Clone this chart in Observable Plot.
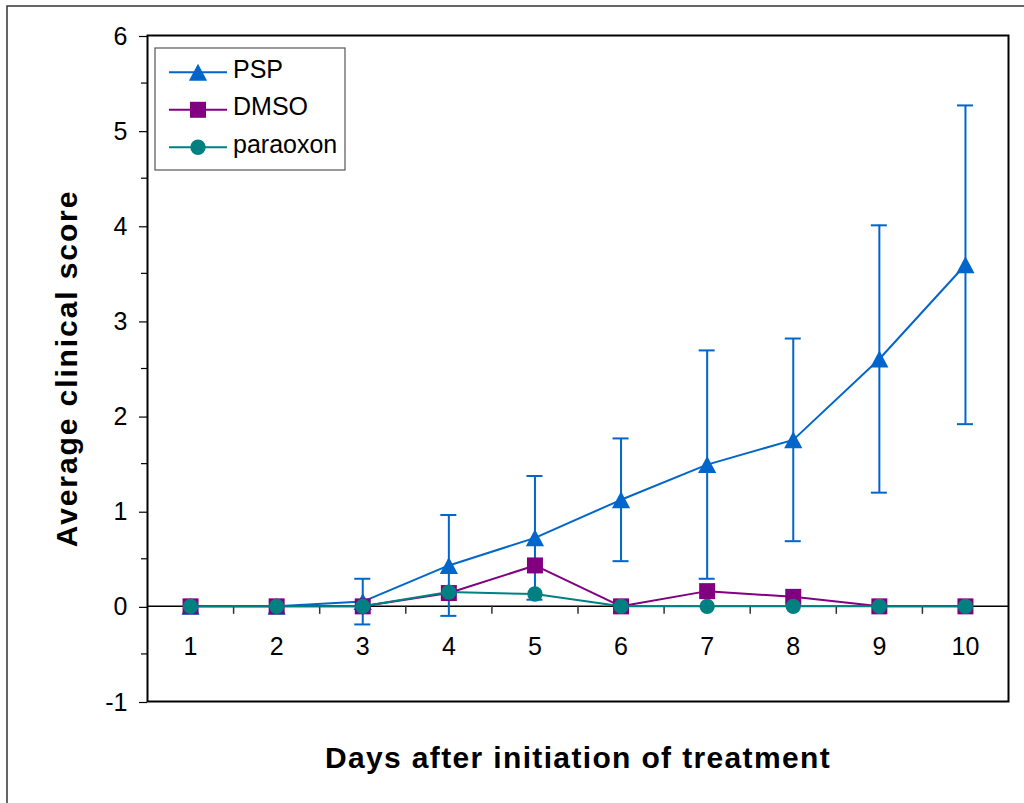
<!DOCTYPE html>
<html>
<head>
<meta charset="utf-8">
<script src="https://cdn.jsdelivr.net/npm/d3@7"></script>
<script src="https://cdn.jsdelivr.net/npm/@observablehq/plot@0.6"></script>
<style>
  body { margin: 0; background: #fff; }
  svg { display: block; }
</style>
</head>
<body>
<div id="chart"></div>
<script>
// Days after initiation of treatment
const days = [1, 2, 3, 4, 5, 6, 7, 8, 9, 10];
const dayLabels = ["1", "2", "3", "4", "5", "6", "7", "8", "9", "10"];

// Average clinical score per group
const pspMean = [0, 0, 0.05, 0.43, 0.72, 1.12, 1.49, 1.75, 2.6, 3.59];
const pspErr = [0, 0, 0.24, 0.53, 0.65, 0.645, 1.2, 1.065, 1.405, 1.675];
const dmsoMean = [0, 0, 0, 0.14, 0.43, 0, 0.16, 0.1, 0, 0];
const paraoxonMean = [0, 0, 0, 0.15, 0.13, 0, 0, 0, 0, 0];

// Series names and colours
const seriesNames = ["PSP", "DMSO", "paraoxon"];
const seriesColors = ["#0066CC", "#800080", "#008080"];

// Axis ticks
const yTicks = [-1, 0, 1, 2, 3, 4, 5, 6];
const yTickLabels = ["-1", "0", "1", "2", "3", "4", "5", "6"];
const yMinorTicks = [-0.5, 0.5, 1.5, 2.5, 3.5, 4.5, 5.5];
const xCategoryBounds = [1.5, 2.5, 3.5, 4.5, 5.5, 6.5, 7.5, 8.5, 9.5];

const yTitle = "Average clinical score";
const xTitle = "Days after initiation of treatment";

const FONT = "'Liberation Sans', Arial, Helvetica, sans-serif";

// Marker shapes centred on their bounding box
const triangleSym = {
  draw(ctx, size) {
    const r = Math.sqrt(size / Math.PI);
    ctx.moveTo(0, -r);
    ctx.lineTo(r * 1.07, r);
    ctx.lineTo(-r * 1.07, r);
    ctx.closePath();
  }
};
const squareSym = {
  draw(ctx, size) {
    const r = Math.sqrt(size / Math.PI);
    ctx.rect(-r, -r, 2 * r, 2 * r);
  }
};
const circleSym = {
  draw(ctx, size) {
    const r = Math.sqrt(size / Math.PI);
    ctx.moveTo(r, 0);
    ctx.arc(0, 0, r, 0, 2 * Math.PI);
  }
};
const symbols = [triangleSym, squareSym, circleSym];
const markerR = [8.5, 8, 7.7];

const psp = days.map((d, i) => ({day: d, mean: pspMean[i], err: pspErr[i]}));
const pspBars = psp.filter(d => d.err > 0);
const dmso = days.map((d, i) => ({day: d, mean: dmsoMean[i]}));
const paraoxon = days.map((d, i) => ({day: d, mean: paraoxonMean[i]}));

const chart = Plot.plot({
  width: 1024,
  height: 803,
  marginLeft: 147,
  marginRight: 16,
  marginTop: 35,
  marginBottom: 102,
  style: {fontFamily: FONT, background: "white", color: "black"},
  x: {domain: [0.5, 10.5], axis: null},
  y: {domain: [-1, 6], axis: null},
  marks: [
    // zero line and category tick marks below it
    Plot.ruleY([0], {stroke: "black", strokeWidth: 1.5}),
    Plot.ruleX(xCategoryBounds, {x: d => d, y1: 0, y2: 0, insetBottom: -8, stroke: "#333", strokeWidth: 1.5}),
    // value axis
    Plot.axisY({
      ticks: yTicks, tickSize: 8, tickPadding: 12, fontSize: 25, dy: 1,
      tickFormat: d => yTickLabels[yTicks.indexOf(d)], label: null, strokeWidth: 1.2
    }),
    Plot.axisY({ticks: yMinorTicks, tickSize: 6, tickFormat: () => "", label: null, strokeWidth: 1.2}),
    Plot.frame({stroke: "black", strokeWidth: 2}),

    // PSP with error bars
    Plot.ruleX(pspBars, {x: "day", y1: d => d.mean - d.err, y2: d => d.mean + d.err, stroke: seriesColors[0], strokeWidth: 2}),
    Plot.ruleY(pspBars, {y: d => d.mean + d.err, x1: "day", x2: "day", insetLeft: -8, insetRight: -8, stroke: seriesColors[0], strokeWidth: 2}),
    Plot.ruleY(pspBars, {y: d => d.mean - d.err, x1: "day", x2: "day", insetLeft: -8, insetRight: -8, stroke: seriesColors[0], strokeWidth: 2}),
    Plot.line(psp, {x: "day", y: "mean", stroke: seriesColors[0], strokeWidth: 2}),
    Plot.dot(psp, {x: "day", y: "mean", symbol: triangleSym, r: markerR[0], fill: seriesColors[0], stroke: "none"}),

    // DMSO
    Plot.line(dmso, {x: "day", y: "mean", stroke: seriesColors[1], strokeWidth: 2}),
    Plot.dot(dmso, {x: "day", y: "mean", symbol: squareSym, r: markerR[1], fill: seriesColors[1], stroke: "none"}),

    // paraoxon
    Plot.line(paraoxon, {x: "day", y: "mean", stroke: seriesColors[2], strokeWidth: 2}),
    Plot.dot(paraoxon, {x: "day", y: "mean", symbol: circleSym, r: markerR[2], fill: seriesColors[2], stroke: "none"}),

    // category labels next to the zero line
    Plot.text(days, {x: d => d, y: 0, text: (d, i) => dayLabels[i], dy: 41, fontSize: 25, fill: "black"}),

    // axis titles
    Plot.text([yTitle], {
      frameAnchor: "left", textAnchor: "middle", rotate: -90, dx: -80, fontSize: 30, fontWeight: "bold",
      lineAnchor: "middle", fill: "black"
    }),
    Plot.text([xTitle], {
      frameAnchor: "bottom", textAnchor: "middle", dy: 57, fontSize: 30, fontWeight: "bold",
      lineAnchor: "middle", fill: "black"
    })
  ]
});

const svg = d3.select(chart);

// widen the bold titles slightly
svg.selectAll("text").filter(function () { return this.textContent === yTitle; })
  .attr("letter-spacing", 1.9);
svg.selectAll("text").filter(function () { return this.textContent === xTitle; })
  .attr("letter-spacing", 1.35);

// outer chart-area border
svg.insert("rect", ":first-child")
  .attr("x", 7).attr("y", 6).attr("width", 1100).attr("height", 900)
  .attr("fill", "none").attr("stroke", "#333").attr("stroke-width", 1.5);

// legend box
const legend = svg.append("g").attr("transform", "translate(155,48)");
legend.append("rect")
  .attr("width", 190).attr("height", 122)
  .attr("fill", "white").attr("stroke", "#555").attr("stroke-width", 1.2);
seriesNames.forEach((name, i) => {
  const g = legend.append("g").attr("transform", `translate(0,${24.3 + i * 37.5})`);
  g.append("line").attr("x1", 14).attr("x2", 72).attr("y1", 0).attr("y2", 0)
    .attr("stroke", seriesColors[i]).attr("stroke-width", 2);
  g.append("path").attr("transform", "translate(43,0)")
    .attr("d", d3.symbol(symbols[i], markerR[i] * markerR[i] * Math.PI)())
    .attr("fill", seriesColors[i]);
  g.append("text").attr("x", 78).attr("y", 5.3)
    .attr("text-anchor", "start")
    .attr("font-size", 25).attr("font-family", FONT).attr("fill", "black")
    .text(name);
});

document.getElementById("chart").appendChild(chart);
</script>
</body>
</html>
